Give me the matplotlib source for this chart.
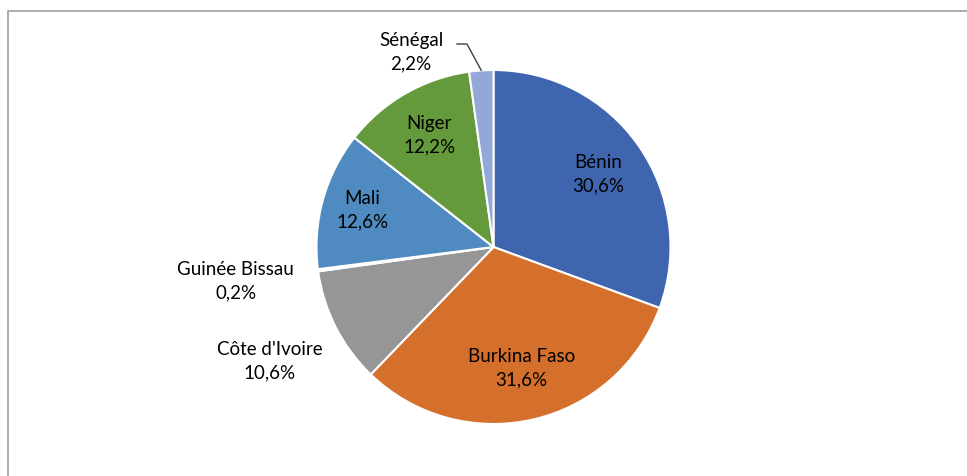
import numpy as np
import matplotlib.pyplot as plt

# pays et parts (%)
pays = ['Bénin', 'Burkina Faso', "Côte d'Ivoire", 'Guinée Bissau', 'Mali', 'Niger', 'Sénégal']
parts = [30.6, 31.6, 10.6, 0.2, 12.6, 12.2, 2.2]
couleurs = ['#3E65AE', '#D4702C', '#969696', '#F2BE2E', '#4F8BC0', '#649A3C', '#91A8D9']

# label placement: radial factor from the wedge middle
facteurs = [0.72, 0.70, 1.42, 1.47, 0.77, 0.73, 1.20]

W, H = 967, 476
fig = plt.figure(figsize=(W / 100, H / 100), dpi=100)
ax = fig.add_axes([0, 0, 1, 1])

cx, cy, R = 493.5, H - 247, 177
wedges, _ = ax.pie(parts, colors=couleurs, startangle=90, counterclock=False,
                   center=(cx, cy), radius=R, frame=True,
                   wedgeprops=dict(edgecolor='white', linewidth=1.5))
ax.set_xlim(0, W)
ax.set_ylim(0, H)
ax.set_aspect('equal')
ax.axis('off')

# chart frame (partly cropped in the reference)
ax.plot([8, 8, W + 5], [-5, H - 11, H - 11], color='#A6A6A6', lw=1.3, clip_on=False)

for w, nom, p, f in zip(wedges, pays, parts, facteurs):
    mid = np.deg2rad((w.theta1 + w.theta2) / 2)
    x = cx + f * R * np.cos(mid)
    y = cy + f * R * np.sin(mid)
    txt = f'{nom}\n{p:.1f}%'.replace('.', ',')
    if nom == 'Sénégal':
        # label placed above-left with a leader line
        x, y = 411, H - 52
        ax.plot([457, 467, cx + R * np.cos(mid)],
                [H - 44, H - 44, cy + R * np.sin(mid)],
                color='#404040', lw=1)
    ax.text(x, y, txt, ha='center', va='center', fontsize=13.5,
            family='Lato', color='black', linespacing=1.45)

plt.savefig('out.png', dpi=100)
